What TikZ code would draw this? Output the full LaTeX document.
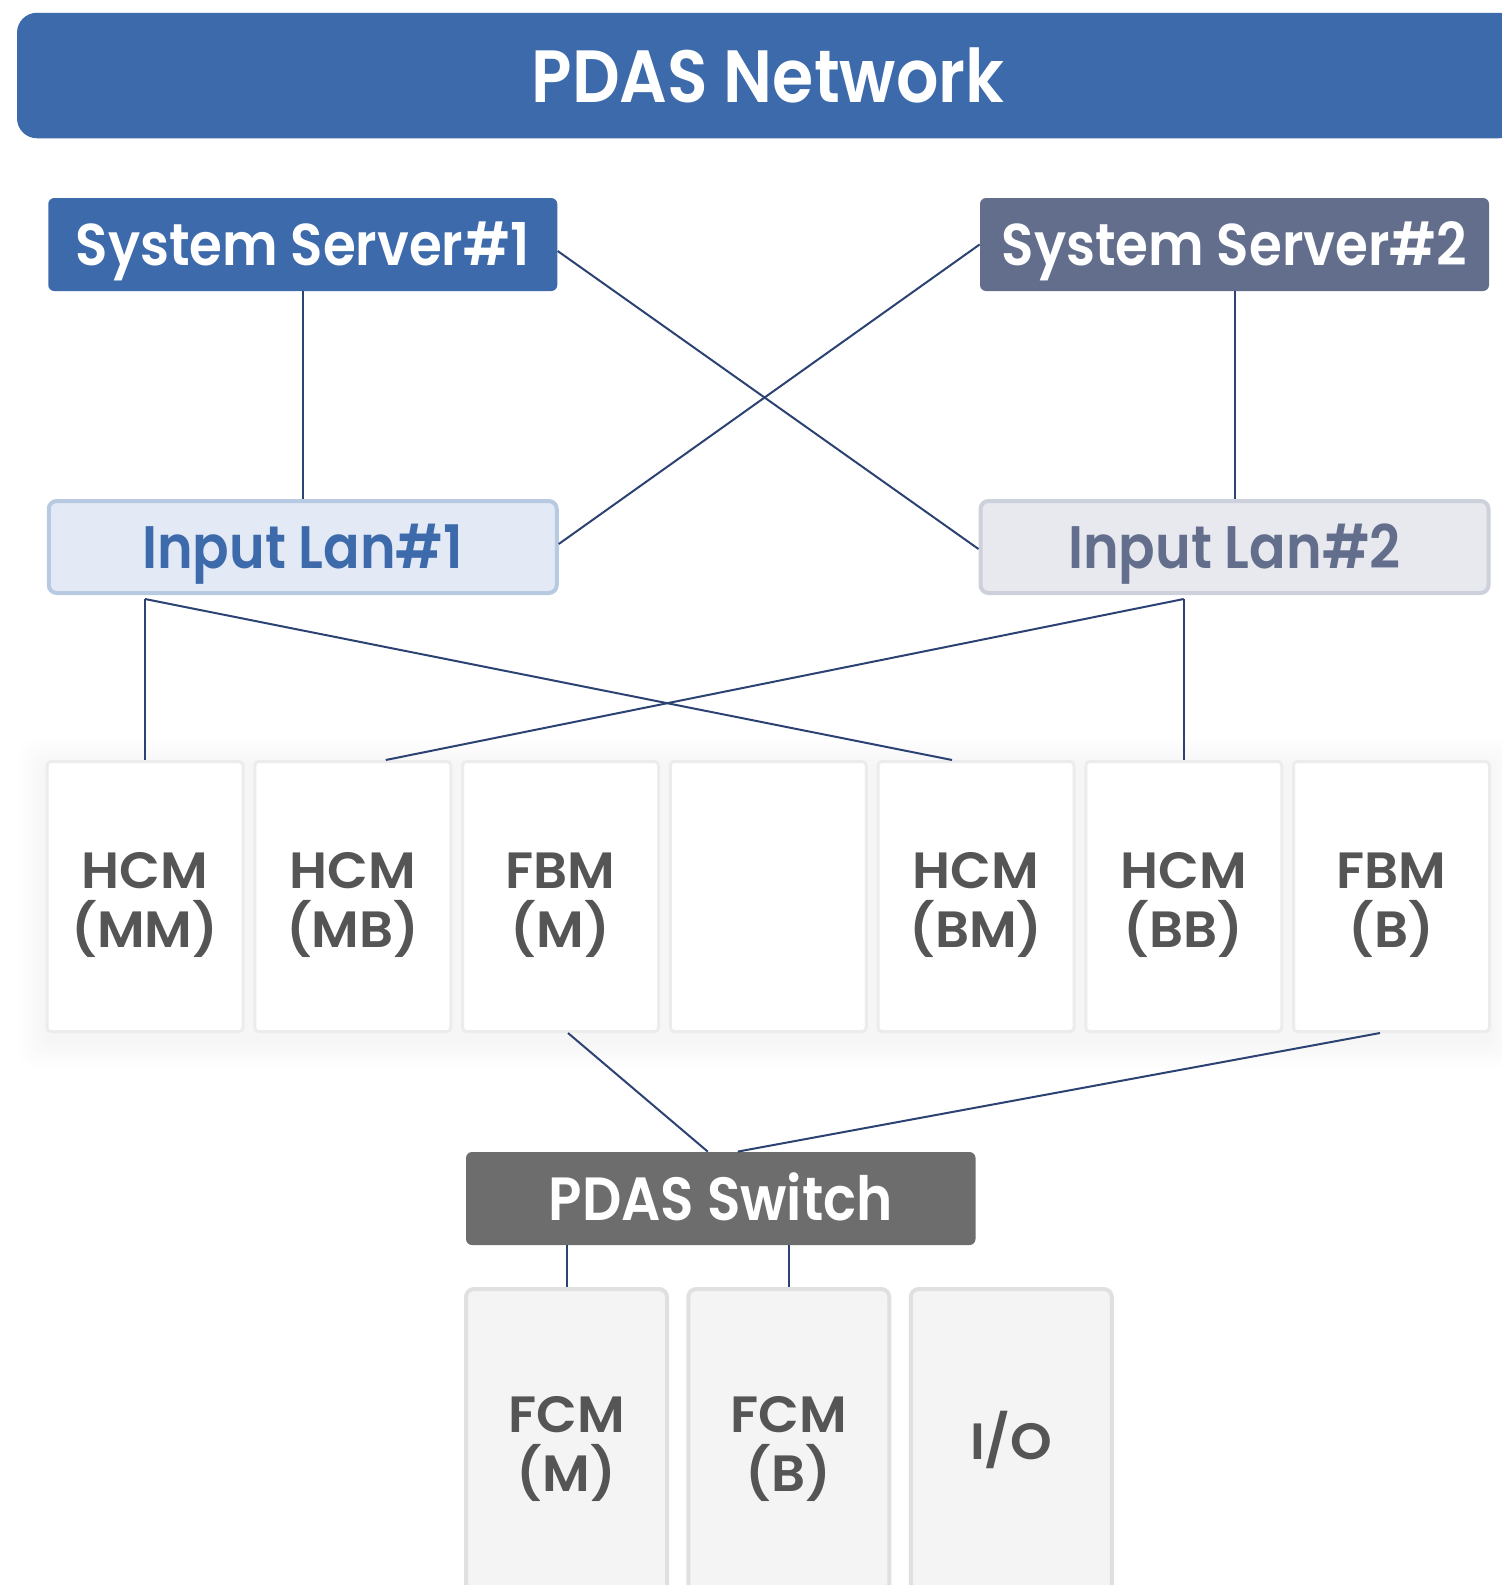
\documentclass[tikz,border=0pt]{standalone}
\usepackage{fontspec}
\setmainfont{Poppins}[UprightFont=* SemiBold, FakeStretch=0.9]
\newfontfamily\modfont{Poppins}[UprightFont=* SemiBold, FakeStretch=1.04]
\usetikzlibrary{calc}
\definecolor{blueA}{HTML}{3D6AAB}
\definecolor{slateA}{HTML}{626E8C}
\definecolor{lanOneFill}{HTML}{E3EAF5}
\definecolor{lanOneLine}{HTML}{B8CAE2}
\definecolor{lanTwoFill}{HTML}{E8E9EF}
\definecolor{lanTwoLine}{HTML}{CDD1DC}
\definecolor{txtGray}{HTML}{555555}
\definecolor{switchGray}{HTML}{6D6D6D}
\definecolor{modLine}{HTML}{ECECEC}
\definecolor{botFill}{HTML}{F4F4F4}
\definecolor{botLine}{HTML}{E0E0E0}
\definecolor{wireCol}{HTML}{2B4272}
\tikzset{
  capcenter/.style={text height=#1, text depth=0pt},
  server/.style={rounded corners=3pt, inner sep=0pt, text=white, capcenter=21.2pt,
    font=\fontsize{29.5}{32}\selectfont,
    minimum width=254.5pt, minimum height=46.5pt},
  lanbox/.style={rounded corners=4pt, inner sep=0pt, line width=2pt, capcenter=21.6pt,
    font=\fontsize{30}{32}\selectfont,
    minimum width=254pt, minimum height=46pt},
  twoline/.style={text height=50.5pt, text depth=0pt},
  modbox/.style={rounded corners=2pt, inner sep=0pt, fill=white, draw=modLine, line width=1.5pt,
    text=txtGray, align=center, font=\modfont\fontsize{25.5}{29.5}\selectfont,
    minimum width=98pt, minimum height=135pt},
  botbox/.style={rounded corners=4pt, inner sep=0pt, fill=botFill, draw=botLine, line width=2pt,
    text=txtGray, align=center, font=\modfont\fontsize{25.5}{29.5}\selectfont,
    minimum width=100.5pt, minimum height=152pt},
  wire/.style={draw=wireCol, line width=1pt},
}
\begin{document}
\begin{tikzpicture}[x=0.5pt, y=-0.5pt]
\useasboundingbox (0,0) rectangle (1502,1585);
\clip (0,0) rectangle (1502,1585);
% title bar
\node[fill=blueA, rounded corners=10pt, inner sep=0pt, minimum width=751pt, minimum height=62.75pt,
  text=white, capcenter=26.6pt, font=\fontsize{37}{40}\selectfont] (title) at (768,75.5) {PDAS Network};
% servers
\node[server, fill=blueA] (ss1) at (302.75,244.5) {System Server\#1};
\node[server, fill=slateA] (ss2) at (1234.5,244.5) {System Server\#2};
% lans
\node[lanbox, fill=lanOneFill, draw=lanOneLine, text=blueA] (lan1) at (302.75,547) {Input Lan\#1};
\node[lanbox, fill=lanTwoFill, draw=lanTwoLine, text=slateA] (lan2) at (1234.5,547) {Input Lan\#2};
% soft shadow behind module row
\foreach \k in {3,6,...,27}{
  \fill[black, opacity=0.005, rounded corners=8pt] (45.5-\k,766-\k) rectangle (1490+\k,1041+\k);
}
% modules
\node[modbox, twoline] (m1) at (145,896.5) {HCM\\(MM)};
\node[modbox, twoline] (m2) at (352.75,896.5) {HCM\\(MB)};
\node[modbox, twoline] (m3) at (560.5,896.5) {FBM\\(M)};
\node[modbox] (m4) at (768.25,896.5) {};
\node[modbox, twoline] (m5) at (976,896.5) {HCM\\(BM)};
\node[modbox, twoline] (m6) at (1183.75,896.5) {HCM\\(BB)};
\node[modbox, twoline] (m7) at (1391.5,896.5) {FBM\\(B)};
% switch
\node[server, fill=switchGray, minimum width=254.75pt, capcenter=22pt, font=\fontsize{30.5}{32}\selectfont] (sw) at (720.75,1198.5) {PDAS Switch};
% bottom
\node[botbox, twoline] (f1) at (566.5,1441) {FCM\\(M)};
\node[botbox, twoline] (f2) at (788.75,1441) {FCM\\(B)};
\node[botbox, capcenter=18.4pt] (io) at (1011.3,1441) {I/O};
% connectors
\draw[wire] (ss1.south) -- (lan1.north);
\draw[wire] (ss2.south) -- (lan2.north);
\draw[wire] ($(ss1.east)+(0,6.5)$) -- ($(lan2.west)+(0,2)$);
\draw[wire] (ss2.west) -- ($(lan1.east)+(0,-3)$);
\coordinate (l1b) at ($(lan1.south -| m1.north)+(0,4)$);
\coordinate (l2b) at ($(lan2.south -| m6.north)+(0,4)$);
\draw[wire] (l1b) -- (m1.north);
\draw[wire] (l1b) -- ($(m5.north)+(-24,0)$);
\draw[wire] (l2b) -- (m6.north);
\draw[wire] (l2b) -- ($(m2.north)+(33,0)$);
\draw[wire] ($(m3.south)+(7.5,0)$) -- ($(sw.north)+(-13,0)$);
\draw[wire] ($(m7.south)+(-11.5,0)$) -- ($(sw.north)+(17,0)$);
\draw[wire] (sw.south -| f1.north) -- (f1.north);
\draw[wire] (sw.south -| f2.north) -- (f2.north);
\end{tikzpicture}
\end{document}
